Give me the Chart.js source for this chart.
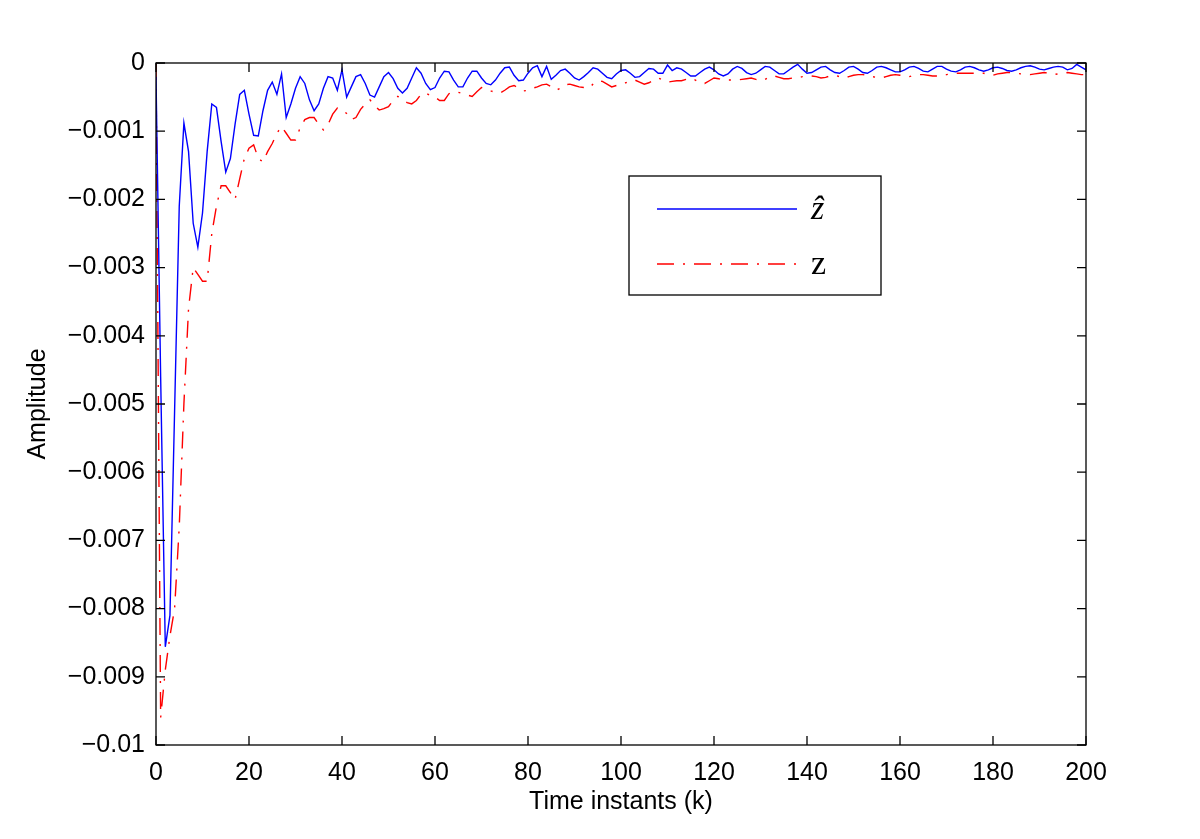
<!DOCTYPE html>
<html>
<head>
<meta charset="utf-8">
<script src="https://cdn.jsdelivr.net/npm/chart.js@4"></script>
<style>
  body { margin: 0; background: #fff; }
</style>
</head>
<body>
<canvas id="myChart" width="1200" height="839"></canvas>
<script>
// estimated state (blue, solid) for k = 0..200
const zHat = [
  -0.0002, -0.0046, -0.00856, -0.0081, -0.0051, -0.0021, -0.00088, -0.0013, -0.00235, -0.0027,
  -0.0022, -0.0013, -0.0006, -0.00065, -0.00115, -0.0016, -0.0014, -0.0009, -0.00046, -0.0004,
  -0.00075, -0.00106, -0.00107, -0.0007, -0.0004, -0.00028, -0.00046, -0.00016, -0.0008, -0.0006,
  -0.00037, -0.0002, -0.0003, -0.00054, -0.0007, -0.0006, -0.00037, -0.0002, -0.00022, -0.0004,
  -0.0001, -0.0005, -0.00035, -0.0002, -0.00017, -0.0003, -0.00047, -0.0005, -0.00035, -0.0002,
  -0.00014, -0.00023, -0.00037, -0.00044, -0.00037, -0.00022, -0.00007, -0.00015, -0.0003, -0.00039,
  -0.00036, -0.00022, -0.00012, -0.00013, -0.00025, -0.00035, -0.00035, -0.00022, -0.00012, -0.00012,
  -0.00022, -0.0003, -0.00032, -0.00025, -0.00015, -0.00007, -0.00006, -0.00018, -0.00026, -0.00025,
  -0.00015, -0.00007, -0.00004, -0.0002, -0.00005, -0.00024, -0.00018, -0.00011, -0.00009, -0.00015,
  -0.00022, -0.00025, -0.0002, -0.00014, -0.00007, -0.00009, -0.00015, -0.00021, -0.00023, -0.00016,
  -0.00011, -0.0001, -0.00015, -0.00021, -0.0002, -0.00014, -0.00008, -0.00009, -0.00015, -0.00015,
  -0.00003, -0.00011, -0.00007, -0.00009, -0.00014, -0.00019, -0.00019, -0.00014, -0.00009, -0.00006,
  -0.0001, -0.00016, -0.00019, -0.00016, -0.00009, -0.00005, -0.00008, -0.00014, -0.00017, -0.00015,
  -0.0001, -0.00005, -0.00006, -0.00011, -0.00016, -0.00016, -0.00011, -0.00006, -0.00002, -0.00009,
  -0.00015, -0.00014, -0.0001, -0.00006, -0.00005, -0.0001, -0.00014, -0.00015, -0.00011, -0.00006,
  -0.00005, -0.00009, -0.00014, -0.00015, -0.00011, -0.00006, -0.00005, -0.00007, -0.0001, -0.00013,
  -0.00013, -0.0001, -0.00006, -0.00005, -0.00008, -0.00012, -0.00013, -0.00009, -0.00005, -0.00005,
  -0.00009, -0.00012, -0.00013, -0.0001, -0.00006, -0.00005, -0.00007, -0.0001, -0.00012, -0.0001,
  -0.00007, -0.00006, -0.00008, -0.00011, -0.00012, -0.0001, -0.00007, -0.00005, -0.00004, -0.00006,
  -0.00009, -0.0001, -0.00008, -0.00006, -0.00005, -0.00006, -0.0001, -0.00008, -0.00002, -0.00006,
  -0.0001
];

// true state (red, dash-dot) for k = 0..200
const zTrue = [
  0, -0.0096, -0.0089, -0.0084, -0.008, -0.0068, -0.005, -0.0036, -0.003, -0.0031,
  -0.0032, -0.0032, -0.0025, -0.0021, -0.0018, -0.0018, -0.0019, -0.002, -0.0017, -0.0014,
  -0.00125, -0.0012, -0.0014, -0.00145, -0.0013, -0.00118, -0.00103, -0.00093, -0.00103, -0.00113,
  -0.00113, -0.00095, -0.00083, -0.0008, -0.0008, -0.0009, -0.00098, -0.0009, -0.00075, -0.00066,
  -0.00068, -0.00074, -0.00083, -0.0008, -0.00068, -0.0006, -0.00054, -0.00062, -0.00069, -0.00067,
  -0.00064, -0.00055, -0.00049, -0.00053, -0.00058, -0.0006, -0.00055, -0.00046, -0.00044, -0.00048,
  -0.0005, -0.00055, -0.00055, -0.00045, -0.00042, -0.00043, -0.00045, -0.00047, -0.00049, -0.00042,
  -0.00036, -0.00038, -0.00041, -0.00043, -0.00044, -0.0004, -0.00035, -0.00033, -0.00037, -0.00041,
  -0.0004, -0.00037, -0.00035, -0.00032, -0.00031, -0.00035, -0.0004, -0.00037, -0.00032, -0.00031,
  -0.00033, -0.00035, -0.00036, -0.00037, -0.00031, -0.00026, -0.00027, -0.00031, -0.00035, -0.00033,
  -0.0003, -0.00029, -0.00026, -0.00025, -0.00028, -0.00031, -0.00029, -0.00025, -0.00022, -0.00025,
  -0.00028, -0.00027, -0.00026, -0.00026, -0.00024, -0.00022, -0.00025, -0.00029, -0.0003, -0.00026,
  -0.00022, -0.00023, -0.00025, -0.00025, -0.00025, -0.00025, -0.00024, -0.00023, -0.00022, -0.00024,
  -0.00026, -0.00024, -0.0002, -0.00019, -0.00021, -0.00023, -0.00023, -0.00022, -0.00022, -0.0002,
  -0.00019, -0.00019, -0.0002, -0.00022, -0.00021, -0.00019, -0.00018, -0.0002, -0.00022, -0.0002,
  -0.00018, -0.00017, -0.00017, -0.00018, -0.0002, -0.00021, -0.00022, -0.0002, -0.00018, -0.00017,
  -0.00018, -0.0002, -0.0002, -0.00018, -0.00017, -0.00017, -0.00018, -0.00019, -0.00019, -0.00018,
  -0.00017, -0.00016, -0.00015, -0.00015, -0.00015, -0.00015, -0.00015, -0.00014, -0.00015, -0.00017,
  -0.00018, -0.00016, -0.00015, -0.00014, -0.00014, -0.00015, -0.00016, -0.00016, -0.00017, -0.00016,
  -0.00015, -0.00014, -0.00015, -0.00017, -0.00016, -0.00015, -0.00014, -0.00015, -0.00016, -0.00017,
  -0.00017
];

const seriesLabels = ['\u1E91', 'z'];
const yTickLabels = ['0', '\u22120.001', '\u22120.002', '\u22120.003', '\u22120.004', '\u22120.005',
  '\u22120.006', '\u22120.007', '\u22120.008', '\u22120.009', '\u22120.01'];

const FONT = "'Liberation Sans', Arial, Helvetica, sans-serif";

// matlab style box, inward ticks and the legend box
const matlabAxes = {
  id: 'matlabAxes',
  afterDraw(chart) {
    const {ctx, chartArea: a, scales: {x, y}} = chart;
    ctx.save();
    ctx.strokeStyle = '#000';
    ctx.lineWidth = 1.3;
    ctx.strokeRect(a.left, a.top, a.right - a.left, a.bottom - a.top);

    const len = 9;
    ctx.beginPath();
    x.ticks.forEach(t => {
      const px = x.getPixelForValue(t.value);
      ctx.moveTo(px, a.bottom); ctx.lineTo(px, a.bottom - len);
      ctx.moveTo(px, a.top); ctx.lineTo(px, a.top + len);
    });
    y.ticks.forEach(t => {
      const py = y.getPixelForValue(t.value);
      ctx.moveTo(a.left, py); ctx.lineTo(a.left + len, py);
      ctx.moveTo(a.right, py); ctx.lineTo(a.right - len, py);
    });
    ctx.stroke();

    // legend
    const bx = 629, by = 176, bw = 252, bh = 119;
    ctx.fillStyle = '#fff';
    ctx.fillRect(bx, by, bw, bh);
    ctx.lineWidth = 1.3;
    ctx.strokeRect(bx, by, bw, bh);
    const rows = [209, 264];
    chart.data.datasets.forEach((ds, i) => {
      ctx.beginPath();
      ctx.strokeStyle = ds.borderColor;
      ctx.lineWidth = ds.borderWidth;
      ctx.setLineDash(ds.borderDash || []);
      ctx.moveTo(657, rows[i]);
      ctx.lineTo(797, rows[i]);
      ctx.stroke();
      ctx.setLineDash([]);
      ctx.fillStyle = '#000';
      ctx.textBaseline = 'middle';
      ctx.font = i === 0 ? "italic 34px 'Liberation Serif', 'DejaVu Serif', serif"
                         : "34px 'Liberation Serif', 'DejaVu Serif', serif";
      ctx.fillText(ds.label, 811, rows[i] + 1);
    });
    ctx.restore();
  }
};

const canvas = document.getElementById('myChart');

const myChart = new Chart(canvas, {
  type: 'line',
  data: {
    datasets: [
      {
        label: seriesLabels[0],
        data: zHat.map((v, k) => ({x: k, y: v})),
        borderColor: '#0000ff',
        borderWidth: 1.4,
        pointRadius: 0,
        tension: 0,
        fill: false
      },
      {
        label: seriesLabels[1],
        data: zTrue.map((v, k) => ({x: k, y: v})),
        borderColor: '#ff0000',
        borderWidth: 1.4,
        borderDash: [17, 9, 2, 9],
        pointRadius: 0,
        tension: 0,
        fill: false
      }
    ]
  },
  options: {
    responsive: false,
    animation: false,
    layout: { padding: { top: 63, right: 114, left: 0, bottom: 0 } },
    plugins: {
      legend: { display: false },
      tooltip: { enabled: false }
    },
    scales: {
      x: {
        type: 'linear',
        min: 0,
        max: 200,
        border: { display: false },
        grid: { display: false, drawTicks: false },
        ticks: { stepSize: 20, padding: 13, color: '#000', font: { family: FONT, size: 25 } },
        title: { display: true, text: 'Time instants (k)', color: '#000',
                 font: { family: FONT, size: 25 }, padding: { top: 0, bottom: 22 } },
        afterFit(scale) { scale.height = 94; }
      },
      y: {
        type: 'linear',
        min: -0.01,
        max: 0,
        border: { display: false },
        grid: { display: false, drawTicks: false },
        ticks: {
          stepSize: 0.001,
          padding: 11,
          color: '#000',
          font: { family: FONT, size: 25 },
          callback: (value) => yTickLabels[Math.round(-value * 1000)]
        },
        title: { display: true, text: 'Amplitude', color: '#000',
                 font: { family: FONT, size: 25 }, padding: { top: 23, bottom: 0 } },
        afterFit(scale) { scale.width = 156; }
      }
    }
  },
  plugins: [matlabAxes]
});
</script>
</body>
</html>
